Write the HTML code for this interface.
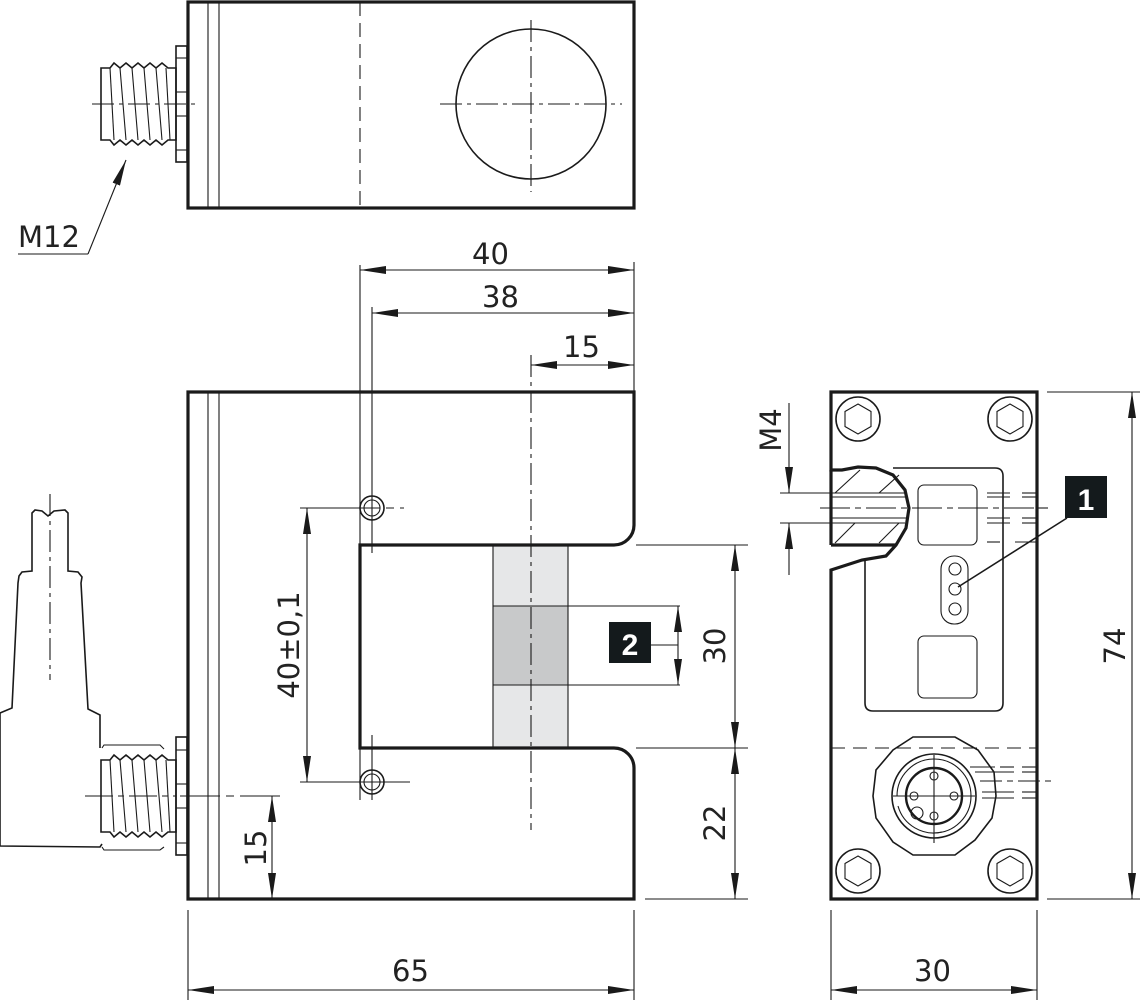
<!DOCTYPE html>
<html><head><meta charset="utf-8"><style>
html,body{margin:0;padding:0;background:#fff}
svg{display:block}
text{font-family:"DejaVu Sans","Liberation Sans",sans-serif;font-size:29px;fill:#222}
.k{stroke:#1a1a1a;fill:none}
.t{stroke-width:3.2}
.m{stroke-width:1.6}
.n{stroke-width:1.1}
.dd{stroke-dasharray:22 5 4 5}
.ds{stroke-dasharray:12 7}
</style></head><body>
<svg width="1140" height="1002" viewBox="0 0 1140 1002" xmlns="http://www.w3.org/2000/svg">
<defs>
<marker id="a" viewBox="0 0 26 8" refX="26" refY="4" markerWidth="26" markerHeight="8" markerUnits="userSpaceOnUse" orient="auto-start-reverse"><path d="M0,0 L26,4 L0,8 Z" fill="#1a1a1a"/></marker>
</defs>

<!-- TOP VIEW -->
<rect class="k t" x="188" y="2" width="446" height="206"/>
<line class="k n" x1="208" y1="2" x2="208" y2="208"/>
<line class="k n" x1="219" y1="2" x2="219" y2="208"/>
<line class="k n" x1="360" y1="2" x2="360" y2="208" stroke-dasharray="14 7"/>
<circle class="k m" cx="531" cy="104" r="75"/>
<line class="k n dd" x1="440" y1="104" x2="622" y2="104"/>
<line class="k n dd" x1="531" y1="20" x2="531" y2="192"/>
<!-- top connector -->
<rect class="k m" x="176" y="46" width="11" height="116"/>
<line class="k n" x1="176" y1="58" x2="187" y2="58"/><line class="k n" x1="176" y1="92" x2="187" y2="92"/>
<line class="k n" x1="176" y1="116" x2="187" y2="116"/><line class="k n" x1="176" y1="150" x2="187" y2="150"/>
<path class="k m" d="M101,68 L110,68 L114,63 L120,68 L126,63 L132,68 L138,63 L144,68 L150,63 L156,68 L162,63 L168,68 L176,68 L176,140 L168,140 L162,145 L156,140 L150,145 L144,140 L138,145 L132,140 L126,145 L120,140 L114,145 L110,140 L101,140 Z"/>
<g class="k n"><line x1="110" y1="68" x2="114" y2="140"/><line x1="120" y1="68" x2="126" y2="140"/><line x1="132" y1="68" x2="138" y2="140"/><line x1="144" y1="68" x2="150" y2="140"/><line x1="156" y1="68" x2="162" y2="140"/><line x1="166" y1="68" x2="170" y2="140"/></g>
<line class="k n dd" x1="92" y1="104" x2="200" y2="104"/>
<line class="k n" x1="18" y1="254" x2="88" y2="254"/>
<line class="k n" x1="88" y1="254" x2="126" y2="160" marker-end="url(#a)"/>
<text x="18" y="247">M12</text>

<!-- FRONT VIEW -->
<rect x="493" y="545" width="75" height="203" fill="#e6e7e8"/>
<rect x="493" y="606" width="75" height="79" fill="#c8c9ca"/>
<line class="k n" x1="493" y1="545" x2="493" y2="748"/><line class="k n" x1="568" y1="545" x2="568" y2="748"/>
<line class="k n" x1="493" y1="606" x2="680" y2="606"/><line class="k n" x1="493" y1="685" x2="680" y2="685"/>
<path class="k t" d="M188,392 L634,392 L634,525 A20,20 0 0 1 614,545 L360,545 L360,748 L614,748 A20,20 0 0 1 634,768 L634,899 L188,899 Z"/>
<line class="k n" x1="208" y1="392" x2="208" y2="899"/>
<line class="k n" x1="219" y1="392" x2="219" y2="899"/>
<line class="k n dd" x1="531" y1="355" x2="531" y2="830"/>
<!-- holes -->
<circle class="k m" cx="372" cy="508" r="12"/><circle class="k n" cx="372" cy="508" r="8"/>
<circle class="k m" cx="372" cy="782" r="12"/><circle class="k n" cx="372" cy="782" r="8"/>
<line class="k n" x1="360" y1="265" x2="360" y2="553"/>
<line class="k n" x1="372" y1="307" x2="372" y2="553"/>
<line class="k n" x1="360" y1="735" x2="360" y2="800"/>
<line class="k n" x1="372" y1="735" x2="372" y2="800"/>
<line class="k n" x1="300" y1="508" x2="404" y2="508" stroke-dasharray="80 6 8 6"/>
<line class="k n" x1="300" y1="782" x2="410" y2="782"/>
<!-- dims top -->
<line class="k n" x1="634" y1="262" x2="634" y2="392"/>
<line class="k n" x1="360" y1="270" x2="634" y2="270" marker-start="url(#a)" marker-end="url(#a)"/>
<text x="472" y="264">40</text>
<line class="k n" x1="372" y1="313" x2="634" y2="313" marker-start="url(#a)" marker-end="url(#a)"/>
<text x="482" y="307">38</text>
<line class="k n" x1="531" y1="365" x2="634" y2="365" marker-start="url(#a)" marker-end="url(#a)"/>
<text x="563" y="357">15</text>
<!-- 40±0,1 -->
<line class="k n" x1="307" y1="508" x2="307" y2="782" marker-start="url(#a)" marker-end="url(#a)"/>
<text transform="translate(299,645) rotate(-90)" text-anchor="middle">40±0,1</text>
<!-- label 2 -->
<line class="k n" x1="678" y1="606" x2="678" y2="685" marker-start="url(#a)" marker-end="url(#a)"/>
<line class="k n" x1="651" y1="645" x2="678" y2="645"/>
<rect x="609" y="622" width="42" height="41" fill="#141a1c"/>
<text x="630" y="655" text-anchor="middle" style="fill:#fff;font-weight:bold;font-family:'Liberation Sans',sans-serif;font-size:30px">2</text>
<!-- 30 / 22 -->
<line class="k n" x1="636" y1="545" x2="748" y2="545"/>
<line class="k n" x1="636" y1="748" x2="748" y2="748"/>
<line class="k n" x1="645" y1="899" x2="748" y2="899"/>
<line class="k n" x1="735" y1="545" x2="735" y2="748" marker-start="url(#a)" marker-end="url(#a)"/>
<line class="k n" x1="735" y1="748" x2="735" y2="899" marker-start="url(#a)" marker-end="url(#a)"/>
<text transform="translate(725,646) rotate(-90)" text-anchor="middle">30</text>
<text transform="translate(725,823) rotate(-90)" text-anchor="middle">22</text>
<!-- 15 bottom left -->
<line class="k n" x1="180" y1="796" x2="280" y2="796" stroke-dasharray="40 6 8 6"/>
<line class="k n" x1="272" y1="796" x2="272" y2="899" marker-start="url(#a)" marker-end="url(#a)"/>
<text transform="translate(266,848) rotate(-90)" text-anchor="middle">15</text>
<!-- 65 -->
<line class="k n" x1="188" y1="910" x2="188" y2="1000"/>
<line class="k n" x1="634" y1="910" x2="634" y2="1000"/>
<line class="k n" x1="188" y1="990" x2="634" y2="990" marker-start="url(#a)" marker-end="url(#a)"/>
<text x="392" y="981">65</text>

<!-- left side connector -->
<path class="k m" d="M0,713 L12,708 L18,583 L19,576 L22,572 L32,571 L32,513 L35,510 L42,511 L48,516 L54,511 L65,510 L68,513 L68,571 L78,572 L82,577 L81,583 L88,709 L100,715 L100,748 M0,713 L0,846 L100,847 L102,844"/>
<path class="k n" d="M102,748 L104,745 L160,745 L164,749 M102,847 L104,850 L160,850 L164,847"/>
<line class="k n dd" x1="50" y1="494" x2="50" y2="680"/>
<rect class="k m" x="176" y="737" width="11" height="118"/>
<line class="k n" x1="176" y1="750" x2="187" y2="750"/><line class="k n" x1="176" y1="784" x2="187" y2="784"/>
<line class="k n" x1="176" y1="808" x2="187" y2="808"/><line class="k n" x1="176" y1="843" x2="187" y2="843"/>
<path class="k m" d="M101,760 L110,760 L114,755 L120,760 L126,755 L132,760 L138,755 L144,760 L150,755 L156,760 L162,755 L168,760 L176,760 L176,832 L168,832 L162,837 L156,832 L150,837 L144,832 L138,837 L132,832 L126,837 L120,832 L114,837 L110,832 L101,832 Z"/>
<g class="k n"><line x1="110" y1="760" x2="114" y2="832"/><line x1="120" y1="760" x2="126" y2="832"/><line x1="132" y1="760" x2="138" y2="832"/><line x1="144" y1="760" x2="150" y2="832"/><line x1="156" y1="760" x2="162" y2="832"/><line x1="166" y1="760" x2="170" y2="832"/></g>
<line class="k n" x1="85" y1="796" x2="176" y2="796" stroke-dasharray="28 5 6 5"/>

<!-- SIDE VIEW -->
<path class="k t" d="M831,392 L1037,392 L1037,899 L831,899 L831,570 L862,560 L886,556 L896,545 L906,528 L909,508 L905,490 L893,475 L876,468 L858,467 L842,470 L831,470 Z"/>
<line class="k t" x1="831" y1="470" x2="831" y2="545"/>
<line class="k t" x1="831" y1="545" x2="896" y2="545"/>
<!-- hatch -->
<g class="k n">
<line x1="831" y1="493" x2="905" y2="493"/><line x1="831" y1="497" x2="907" y2="497"/>
<line x1="831" y1="518" x2="907" y2="518"/><line x1="831" y1="523" x2="905" y2="523"/>
<line x1="835" y1="493" x2="860" y2="470"/><line x1="879" y1="493" x2="899" y2="475"/>
<line x1="835" y1="543" x2="855" y2="523"/><line x1="879" y1="543" x2="899" y2="523"/>
</g>
<line class="k n" x1="820" y1="508" x2="1048" y2="508" stroke-dasharray="30 5 6 5"/>
<!-- inner panel -->
<path class="k m" d="M893,468 L995,468 Q1003,468 1003,476 L1003,703 Q1003,711 995,711 L873,711 Q865,711 865,703 L865,560"/>
<rect class="k n" x="918" y="485" width="59" height="60" rx="6"/>
<rect class="k n" x="918" y="636" width="59" height="62" rx="6"/>
<rect class="k n" x="941" y="556" width="27" height="68" rx="13"/>
<circle class="k n" cx="955" cy="569" r="6"/><circle class="k n" cx="955" cy="589" r="6"/><circle class="k n" cx="955" cy="609" r="6"/>
<g class="k n">
<line x1="987" y1="493" x2="1010" y2="493"/><line x1="1022" y1="493" x2="1037" y2="493"/>
<line x1="987" y1="497" x2="1010" y2="497"/><line x1="1022" y1="497" x2="1037" y2="497"/>
<line x1="987" y1="518" x2="1010" y2="518"/><line x1="1022" y1="518" x2="1037" y2="518"/>
<line x1="987" y1="523" x2="1010" y2="523"/><line x1="1022" y1="523" x2="1037" y2="523"/>
<line x1="987" y1="542" x2="1000" y2="542"/><line x1="1015" y1="542" x2="1037" y2="542"/>
</g>
<!-- screws -->
<g class="k m">
<circle cx="858" cy="419" r="22"/><circle cx="1010" cy="419" r="22"/><circle cx="858" cy="871" r="22"/><circle cx="1010" cy="871" r="22"/>
</g>
<g class="k n">
<polygon points="858,404 871,411.5 871,426.5 858,434 845,426.5 845,411.5"/>
<polygon points="1010,404 1023,411.5 1023,426.5 1010,434 997,426.5 997,411.5"/>
<polygon points="858,856 871,863.5 871,878.5 858,886 845,878.5 845,863.5"/>
<polygon points="1010,856 1023,863.5 1023,878.5 1010,886 997,878.5 997,863.5"/>
</g>
<!-- M4 dim -->
<line class="k n" x1="780" y1="493" x2="831" y2="493"/>
<line class="k n" x1="780" y1="523" x2="831" y2="523"/>
<line class="k n" x1="789" y1="403" x2="789" y2="493" marker-end="url(#a)"/>
<line class="k n" x1="789" y1="575" x2="789" y2="523" marker-end="url(#a)"/>
<text transform="translate(781,430) rotate(-90)" text-anchor="middle">M4</text>
<!-- label 1 -->
<line class="k m" x1="1067" y1="518" x2="958" y2="587"/>
<line class="k n" x1="1037" y1="508" x2="1048" y2="508"/>
<rect x="1065" y="476" width="42" height="42" fill="#141a1c"/>
<text x="1086" y="510" text-anchor="middle" style="fill:#fff;font-weight:bold;font-family:'Liberation Sans',sans-serif;font-size:30px">1</text>
<!-- connector -->
<line class="k n" x1="831" y1="748" x2="1037" y2="748" stroke-dasharray="14 8"/>
<polygon class="k m" points="913,737 955,737 978,750 994,772 996,796 992,818 975,840 955,855 913,855 893,842 876,818 873,796 876,770 893,750"/>
<circle class="k m" cx="934" cy="796" r="42"/>
<path class="k n" d="M897,796 A37,37 0 1 1 934,833"/>
<path class="k n" d="M898,806 A37,37 0 0 0 942,832"/>
<circle class="k t" cx="934" cy="796" r="28" style="stroke-width:2.4"/>
<g class="k n">
<circle cx="934" cy="776" r="4"/><circle cx="914" cy="796" r="4"/><circle cx="954" cy="796" r="4"/><circle cx="934" cy="816" r="4"/>
<circle cx="917" cy="813" r="6"/>
<line x1="893" y1="796" x2="975" y2="796"/><line x1="934" y1="755" x2="934" y2="843"/>
<line x1="970" y1="767" x2="995" y2="767"/><line x1="1000" y1="767" x2="1014" y2="767"/><line x1="1022" y1="767" x2="1037" y2="767"/>
<line x1="975" y1="772" x2="1014" y2="772"/><line x1="1022" y1="772" x2="1037" y2="772"/>
<line x1="980" y1="781" x2="1056" y2="781" stroke-dasharray="22 5 6 5"/>
<line x1="982" y1="792" x2="1014" y2="792"/><line x1="1022" y1="792" x2="1037" y2="792"/>
<line x1="982" y1="798" x2="1014" y2="798"/><line x1="1022" y1="798" x2="1037" y2="798"/>
</g>
<!-- 74 -->
<line class="k n" x1="1047" y1="392" x2="1140" y2="392"/>
<line class="k n" x1="1047" y1="899" x2="1140" y2="899"/>
<line class="k n" x1="1132" y1="392" x2="1132" y2="899" marker-start="url(#a)" marker-end="url(#a)"/>
<text transform="translate(1125,646) rotate(-90)" text-anchor="middle">74</text>
<!-- 30 bottom -->
<line class="k n" x1="831" y1="910" x2="831" y2="1000"/>
<line class="k n" x1="1037" y1="910" x2="1037" y2="1000"/>
<line class="k n" x1="831" y1="990" x2="1037" y2="990" marker-start="url(#a)" marker-end="url(#a)"/>
<text x="914" y="981">30</text>
</svg>
</body></html>
